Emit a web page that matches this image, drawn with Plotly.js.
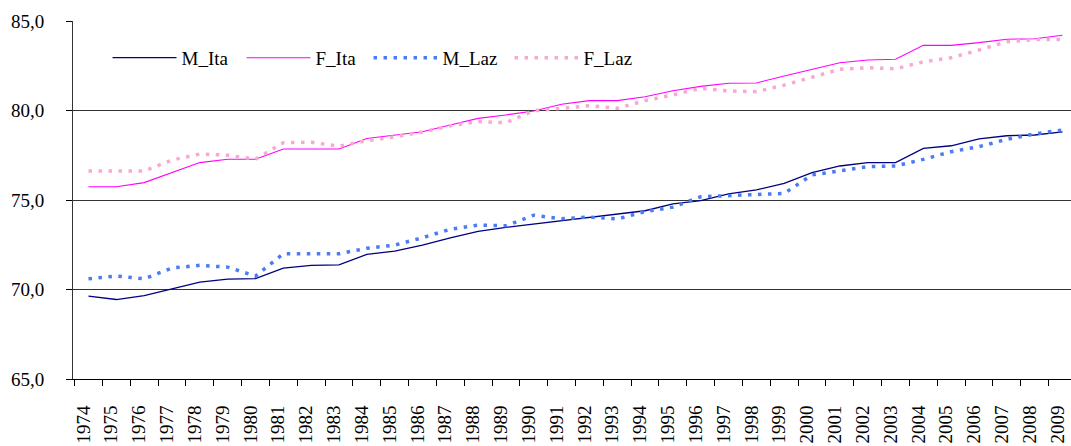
<!DOCTYPE html>
<html>
<head>
<meta charset="utf-8">
<script src="https://cdn.plot.ly/plotly-3.0.1.min.js"></script>
<style>
  html, body { margin: 0; padding: 0; background: #fff; }
  #chart { width: 1071px; height: 446px; }
</style>
</head>
<body>
<div id="chart"></div>
<script>
var years = ['1974','1975','1976','1977','1978','1979','1980','1981','1982','1983',
  '1984','1985','1986','1987','1988','1989','1990','1991','1992','1993',
  '1994','1995','1996','1997','1998','1999','2000','2001','2002','2003',
  '2004','2005','2006','2007','2008','2009'];

var M_Ita = [69.63, 69.44, 69.66, 70.04, 70.41, 70.58, 70.61, 71.2, 71.35, 71.38,
  71.96, 72.14, 72.48, 72.89, 73.25, 73.47, 73.66, 73.87, 74.03, 74.22,
  74.4, 74.78, 74.96, 75.34, 75.56, 75.93, 76.53, 76.9, 77.09, 77.09,
  77.88, 78.03, 78.41, 78.59, 78.63, 78.81];

var F_Ita = [75.74, 75.74, 75.97, 76.53, 77.09, 77.28, 77.28, 77.85, 77.85, 77.85,
  78.44, 78.64, 78.81, 79.19, 79.56, 79.75, 79.97, 80.35, 80.55, 80.55,
  80.77, 81.1, 81.35, 81.52, 81.54, 81.93, 82.3, 82.67, 82.82, 82.86,
  83.64, 83.64, 83.79, 83.98, 84.01, 84.2];

var M_Laz = [70.6, 70.75, 70.6, 71.2, 71.35, 71.25, 70.75, 72.0, 72.0, 72.0,
  72.3, 72.48, 72.89, 73.37, 73.6, 73.56, 74.15, 73.95, 74.05, 73.94,
  74.35, 74.6, 75.18, 75.25, 75.28, 75.37, 76.4, 76.64, 76.86, 76.9,
  77.27, 77.7, 77.98, 78.39, 78.69, 78.91];

var F_Laz = [76.62, 76.62, 76.62, 77.23, 77.57, 77.5, 77.28, 78.2, 78.23, 78.0,
  78.31, 78.53, 78.8, 79.15, 79.38, 79.32, 79.99, 80.12, 80.27, 80.12,
  80.55, 80.87, 81.24, 81.09, 81.05, 81.42, 81.85, 82.3, 82.39, 82.33,
  82.72, 82.95, 83.38, 83.84, 83.96, 83.97];

var yTicks = [65, 70, 75, 80, 85];

var FONT = 'Liberation Serif, Times New Roman, serif';

var traces = [
  { name: 'M_Ita', x: years, y: M_Ita, type: 'scatter', mode: 'lines',
    line: { color: '#000080', width: 1.3 }, legendwidth: 55 },
  { name: 'F_Ita', x: years, y: F_Ita, type: 'scatter', mode: 'lines',
    line: { color: '#FF00FF', width: 1.1 }, legendwidth: 48 },
  { name: 'M_Laz', x: years, y: M_Laz, type: 'scatter', mode: 'lines',
    line: { color: '#4A7CF5', width: 3.5, dash: '3.5px,6.5px' }, legendwidth: 62 },
  { name: 'F_Laz', x: years, y: F_Laz, type: 'scatter', mode: 'lines',
    line: { color: '#F9A9D1', width: 3.5, dash: '3.5px,6.5px' }, legendwidth: 55 }
];

var layout = {
  width: 1071,
  height: 446,
  margin: { l: 73, r: 0, t: 21, b: 67, pad: 0 },
  paper_bgcolor: '#ffffff',
  plot_bgcolor: '#ffffff',
  separators: ',.',
  font: { family: FONT, size: 19, color: '#000000' },
  showlegend: true,
  legend: {
    orientation: 'h',
    x: 0.0346, xanchor: 'left',
    y: 0.897, yanchor: 'middle',
    bgcolor: 'rgba(0,0,0,0)',
    itemwidth: 64,
    font: { family: FONT, size: 19, color: '#000000' },
    traceorder: 'normal'
  },
  xaxis: {
    type: 'category',
    range: [-0.557, 35.305],
    tickmode: 'array',
    tickvals: years,
    ticktext: years,
    tickangle: -90,
    tickson: 'boundaries',
    ticks: 'outside',
    ticklen: 6,
    tickcolor: '#000000',
    tickwidth: 1,
    showgrid: false,
    showline: true,
    linecolor: '#000000',
    linewidth: 1,
    zeroline: false,
    automargin: false,
    ticklabelstandoff: 18,
    ticklabelshift: -5,
    tickfont: { family: FONT, size: 19, color: '#000000' },
    fixedrange: true
  },
  yaxis: {
    range: [65, 85],
    tickmode: 'array',
    tickvals: yTicks,
    tickformat: '.1f',
    ticks: 'outside',
    ticklen: 6,
    tickcolor: '#000000',
    showgrid: true,
    gridcolor: '#333333',
    gridwidth: 1,
    showline: true,
    linecolor: '#333333',
    linewidth: 1,
    zeroline: false,
    automargin: false,
    ticklabelstandoff: 18,
    tickfont: { family: FONT, size: 19, color: '#000000' },
    fixedrange: true
  }
};

Plotly.newPlot('chart', traces, layout, { staticPlot: true, displayModeBar: false }).then(function () {
  var paths = document.querySelectorAll('#chart .legend .traces .legendlines path');
  paths.forEach(function (p) { p.setAttribute('d', 'M5,0h64'); });
});
</script>
</body>
</html>
